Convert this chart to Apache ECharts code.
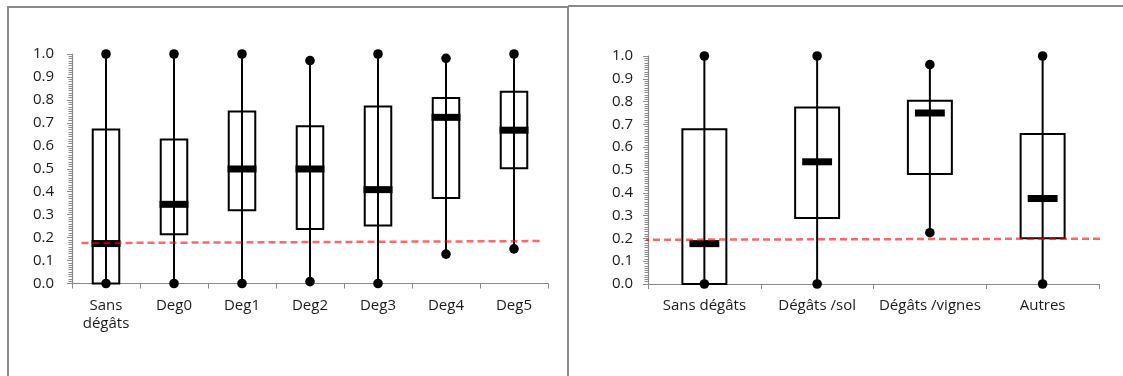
<!DOCTYPE html>
<html>
<head>
<meta charset="utf-8">
<script src="https://cdn.jsdelivr.net/npm/echarts@6/dist/echarts.min.js"></script>
<style>
  html, body { margin: 0; padding: 0; background: #fff; }
  #chart { width: 1123px; height: 376px; }
</style>
</head>
<body>
<div id="chart"></div>
<script>
// ---- Left chart data ----
const leftCategories = ['Sans\ndégâts', 'Deg0', 'Deg1', 'Deg2', 'Deg3', 'Deg4', 'Deg5'];
const leftMin    = [0.000, 0.000, 0.000, 0.008, 0.000, 0.128, 0.151];
const leftQ1     = [0.000, 0.215, 0.319, 0.237, 0.253, 0.373, 0.502];
const leftMedian = [0.174, 0.345, 0.499, 0.499, 0.409, 0.724, 0.668];
const leftQ3     = [0.671, 0.627, 0.750, 0.685, 0.771, 0.808, 0.835];
const leftMax    = [1.000, 1.000, 1.000, 0.971, 1.000, 0.981, 1.000];
const leftRefX   = [0.14, 6.88];
const leftRefY   = [0.176, 0.185];

// ---- Right chart data ----
const rightCategories = ['Sans dégâts', 'Dégâts /sol', 'Dégâts /vignes', 'Autres'];
const rightMin    = [0.000, 0.000, 0.225, 0.000];
const rightQ1     = [0.000, 0.289, 0.483, 0.201];
const rightMedian = [0.177, 0.536, 0.750, 0.375];
const rightQ3     = [0.679, 0.774, 0.804, 0.658];
const rightMax    = [1.000, 1.000, 0.962, 1.000];
const rightRefX   = [-0.053, 4.05];
const rightRefY   = [0.194, 0.199];

const FONT = "'Open Sans', 'Noto Sans', sans-serif";
const AXIS_GRAY = '#8a8a8a';
const TEXT = '#1a1a1a';

function buildBoxData(mins, q1s, meds, q3s, maxs) {
  return mins.map((_, i) => [i, mins[i], q1s[i], meds[i], q3s[i], maxs[i]]);
}
function buildRefLine(xs, ys) {
  return xs.map((x, i) => [x, ys[i]]);
}

function makeRender(boxRatio, medRatio) {
  return function (params, api) {
    const i = api.value(0);
    const pMin = api.coord([i, api.value(1)]);
    const pQ1 = api.coord([i, api.value(2)]);
    const pMed = api.coord([i, api.value(3)]);
    const pQ3 = api.coord([i, api.value(4)]);
    const pMax = api.coord([i, api.value(5)]);
    const band = api.size([1, 0])[0];
    const bw = band * boxRatio;
    const mw = band * medRatio;
    const cx = pMed[0];
    return {
      type: 'group',
      children: [
        { type: 'rect', shape: { x: cx - bw / 2, y: pQ3[1], width: bw, height: pQ1[1] - pQ3[1] },
          style: { fill: 'none', stroke: '#000', lineWidth: 2 } },
        { type: 'line', shape: { x1: cx, y1: pMax[1], x2: cx, y2: pMin[1] },
          style: { stroke: '#000', lineWidth: 2 } },
        { type: 'rect', shape: { x: cx - mw / 2, y: pMed[1] - 3.5, width: mw, height: 7 },
          style: { fill: '#000' } },
        { type: 'circle', shape: { cx: cx, cy: pMax[1], r: 4.8 }, style: { fill: '#000' } },
        { type: 'circle', shape: { cx: cx, cy: pMin[1], r: 4.8 }, style: { fill: '#000' } }
      ]
    };
  };
}

function yAxisCfg(gridIndex, margin) {
  return {
    type: 'value', gridIndex: gridIndex, min: 0, max: 1, interval: 0.1,
    axisLine: { show: true, lineStyle: { color: AXIS_GRAY, width: 1.2 } },
    axisTick: { show: true, length: 5, lineStyle: { color: AXIS_GRAY } },
    minorTick: { show: true, splitNumber: 10, length: 3.5, lineStyle: { color: AXIS_GRAY } },
    splitLine: { show: false },
    axisLabel: { formatter: v => v.toFixed(1), margin: margin, fontFamily: FONT, fontSize: 15, color: TEXT }
  };
}
function xAxisCfg(gridIndex, cats) {
  return {
    type: 'category', gridIndex: gridIndex, data: cats, boundaryGap: true,
    axisLine: { show: true, lineStyle: { color: AXIS_GRAY, width: 1.2 } },
    axisTick: { show: true, length: 5, alignWithLabel: false, lineStyle: { color: AXIS_GRAY } },
    splitLine: { show: false },
    axisLabel: { interval: 0, margin: 13, fontFamily: FONT, fontSize: 15, color: TEXT, lineHeight: 18 }
  };
}
function hiddenX(gridIndex, max) {
  return { type: 'value', gridIndex: gridIndex, min: 0, max: max, show: false };
}

const chart = echarts.init(document.getElementById('chart'), null, { renderer: 'canvas' });
chart.setOption({
  animation: false,
  backgroundColor: '#fff',
  grid: [
    { left: 72, top: 54, width: 476, height: 229.5 },
    { left: 648, top: 56, width: 451, height: 228 }
  ],
  xAxis: [
    xAxisCfg(0, leftCategories),
    xAxisCfg(1, rightCategories),
    hiddenX(0, leftCategories.length),
    hiddenX(1, rightCategories.length)
  ],
  yAxis: [yAxisCfg(0, 18), yAxisCfg(1, 15)],
  graphic: [
    { type: 'line', shape: { x1: 8, y1: 7, x2: 8, y2: 380 }, style: { stroke: '#8a8a8a', lineWidth: 2 } },
    { type: 'line', shape: { x1: 7, y1: 7, x2: 568, y2: 7 }, style: { stroke: '#8a8a8a', lineWidth: 2 } },
    { type: 'line', shape: { x1: 568, y1: 6, x2: 568, y2: 380 }, style: { stroke: '#8a8a8a', lineWidth: 2 } },
    { type: 'line', shape: { x1: 568, y1: 6, x2: 1125, y2: 6 }, style: { stroke: '#8a8a8a', lineWidth: 2 } }
  ],
  series: [
    { type: 'custom', xAxisIndex: 0, yAxisIndex: 0, renderItem: makeRender(0.39, 0.426),
      encode: { x: 0, y: [1, 2, 3, 4, 5] }, data: buildBoxData(leftMin, leftQ1, leftMedian, leftQ3, leftMax), z: 2 },
    { type: 'custom', xAxisIndex: 1, yAxisIndex: 1, renderItem: makeRender(0.39, 0.265),
      encode: { x: 0, y: [1, 2, 3, 4, 5] }, data: buildBoxData(rightMin, rightQ1, rightMedian, rightQ3, rightMax), z: 2 },
    { type: 'line', xAxisIndex: 2, yAxisIndex: 0, data: buildRefLine(leftRefX, leftRefY), symbol: 'none', clip: false, z: 10,
      lineStyle: { color: 'rgba(255,0,0,0.6)', width: 2.5, type: [7, 4] } },
    { type: 'line', xAxisIndex: 3, yAxisIndex: 1, data: buildRefLine(rightRefX, rightRefY), symbol: 'none', clip: false, z: 10,
      lineStyle: { color: 'rgba(255,0,0,0.6)', width: 2.5, type: [7, 4] } }
  ]
});
</script>
</body>
</html>
